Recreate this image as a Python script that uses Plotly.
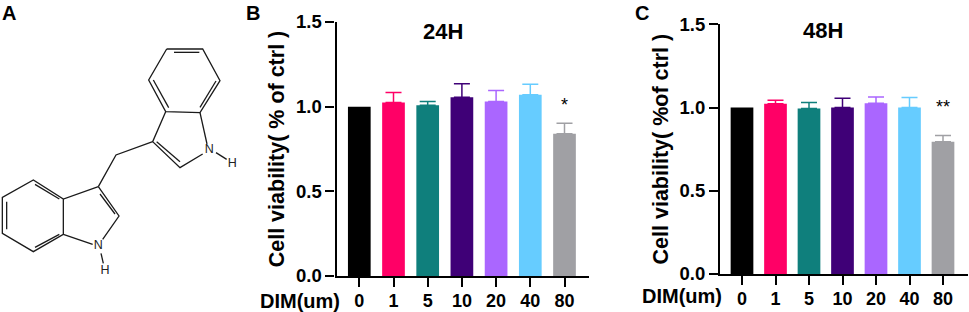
import plotly.graph_objects as go

W, H = 969, 312
FONT = "Liberation Sans, Arial, sans-serif"

doses = ["0", "1", "5", "10", "20", "40", "80"]
colors = ["#000000", "#FF0066", "#0F7F7C", "#3F0077", "#AA66FF", "#66CCFF", "#A0A0A4"]
viability_24h = [1.0, 1.025, 1.008, 1.055, 1.03, 1.07, 0.84]
error_24h = [0.0, 0.058, 0.022, 0.081, 0.065, 0.062, 0.062]
viability_48h = [1.0, 1.022, 0.994, 1.0, 1.026, 1.0, 0.794]
error_48h = [0.0, 0.022, 0.036, 0.056, 0.038, 0.06, 0.038]
y_ticks = [0.0, 0.5, 1.0, 1.5]

# Structural formula of the compound (panel A), one list of bond polylines per ring/part
bonds = [
    [(500, 147), (608, 147), (660, 242), (600, 338), (497, 335), (446, 240), (500, 147)],
    [(522, 157), (598, 157)], [(648, 243), (600, 322)], [(460, 240), (506, 323)],
    [(600, 338), (621, 432)], [(608, 462), (540, 503), (458, 425), (497, 335)],
    [(470, 425), (540, 485)], [(648, 458), (680, 478)],
    [(458, 425), (348, 465), (295, 560)],
    [(295, 560), (357, 648), (308, 718)], [(300, 582), (345, 642)],
    [(278, 733), (190, 703)], [(303, 760), (310, 790)],
    [(295, 560), (190, 597), (100, 540), (7, 592), (7, 700), (100, 755), (190, 703), (190, 597)],
    [(105, 553), (178, 597)], [(20, 605), (20, 688)], [(105, 742), (178, 703)],
]
atoms = [("N", 628, 450), ("H", 697, 492), ("N", 295, 738), ("H", 315, 812)]


def frac_x(px):
    return px / W


def frac_y(py):
    return 1 - py / H


fig = go.Figure()

panels = [
    dict(suffix="", vals=viability_24h, errs=error_24h, left=336.5, right=589, top=22, bottom=276,
         first=359.3, step=34.2, ytitle="Cell viability( % of ctrl )\u00a0", star="*", star_y=0.94),
    dict(suffix="2", vals=viability_48h, errs=error_48h, left=720, right=967.7, top=24.3, bottom=274,
         first=742, step=33.5, ytitle="Cell viability( %of ctrl )\u00a0", star="**", star_y=0.93),
]

for p in panels:
    for dose, color, v, e in zip(doses, colors, p["vals"], p["errs"]):
        fig.add_trace(go.Bar(
            x=[dose], y=[v], width=[22.7 / p["step"]],
            marker=dict(color=color, line=dict(width=0)),
            error_y=dict(type="data", symmetric=False, array=[e], arrayminus=[0],
                         color=color, thickness=1.5, width=8, visible=e > 0),
            xaxis="x" + p["suffix"], yaxis="y" + p["suffix"], showlegend=False,
        ))
    axis_common = dict(showgrid=False, zeroline=False, showline=True, linecolor="#000", linewidth=2.2,
                       ticks="outside", tickcolor="#000", tickwidth=2.2, ticklen=9, automargin=False)
    fig.update_layout({
        "xaxis" + p["suffix"]: dict(
            domain=[frac_x(p["left"]), frac_x(p["right"])],
            type="category", categoryorder="array", categoryarray=doses,
            range=[(p["left"] - p["first"]) / p["step"], (p["right"] - p["first"]) / p["step"]],
            anchor="y" + p["suffix"], tickfont=dict(family=FONT, size=18, color="#000", weight="bold"),
            ticklabelstandoff=-2,
            **axis_common),
        "yaxis" + p["suffix"]: dict(
            domain=[frac_y(p["bottom"]), frac_y(p["top"])], range=[0, 1.5],
            tickvals=y_ticks, ticktext=[f"{t:.1f}" for t in y_ticks],
            anchor="x" + p["suffix"], tickfont=dict(family=FONT, size=18.5, color="#000", weight="bold"),
            title=dict(text=p["ytitle"], font=dict(family=FONT, size=21.5, color="#000", weight="bold"), standoff=5),
            **axis_common),
    })
    # category axes read annotation x as a position: index of the last dose
    fig.add_annotation(x=len(doses) - 1, y=p["star_y"], xref="x" + p["suffix"], yref="y" + p["suffix"],
                       text=p["star"], showarrow=False, yanchor="bottom",
                       font=dict(family=FONT, size=18, color="#000"))

# panel A molecule, in its own hidden axes
for bond in bonds:
    fig.add_trace(go.Scatter(
        x=[pt[0] / 3 for pt in bond], y=[pt[1] / 3 for pt in bond], mode="lines",
        line=dict(color="#1a1a1a", width=1.3), xaxis="x3", yaxis="y3",
        showlegend=False, hoverinfo="skip",
    ))
fig.add_trace(go.Scatter(
    x=[a[1] / 3 for a in atoms], y=[a[2] / 3 for a in atoms], text=[a[0] for a in atoms],
    mode="text", textfont=dict(family=FONT, size=12.5, color="#222"),
    xaxis="x3", yaxis="y3", showlegend=False, hoverinfo="skip",
))

fig.update_layout(
    xaxis3=dict(domain=[0, 1], range=[0, W], visible=False, anchor="y3", automargin=False),
    yaxis3=dict(domain=[0, 1], range=[H, 0], visible=False, anchor="x3", automargin=False),
)


def label(text, px, py, size):
    fig.add_annotation(x=frac_x(px), y=frac_y(py), xref="paper", yref="paper", text=f"<b>{text}</b>",
                       showarrow=False, xanchor="center", yanchor="middle",
                       font=dict(family=FONT, size=size, color="#000"))


label("A", 9, 13, 20)
label("B", 253, 13, 20)
label("C", 642, 13, 20)
label("24H", 443, 32, 22)
label("48H", 823, 31, 22)
label("DIM(um)", 300, 301, 20)
label("DIM(um)", 682, 296, 20)

fig.update_layout(
    template="none",
    width=W, height=H, autosize=False, barmode="overlay",
    margin=dict(l=0, r=0, t=0, b=0, pad=0), paper_bgcolor="#fff", plot_bgcolor="rgba(0,0,0,0)",
    font=dict(family=FONT, color="#000"),
)

fig.write_html("out.html", config=dict(displayModeBar=False),
               post_script="document.body.style.margin='0';document.documentElement.style.overflow='hidden';")
